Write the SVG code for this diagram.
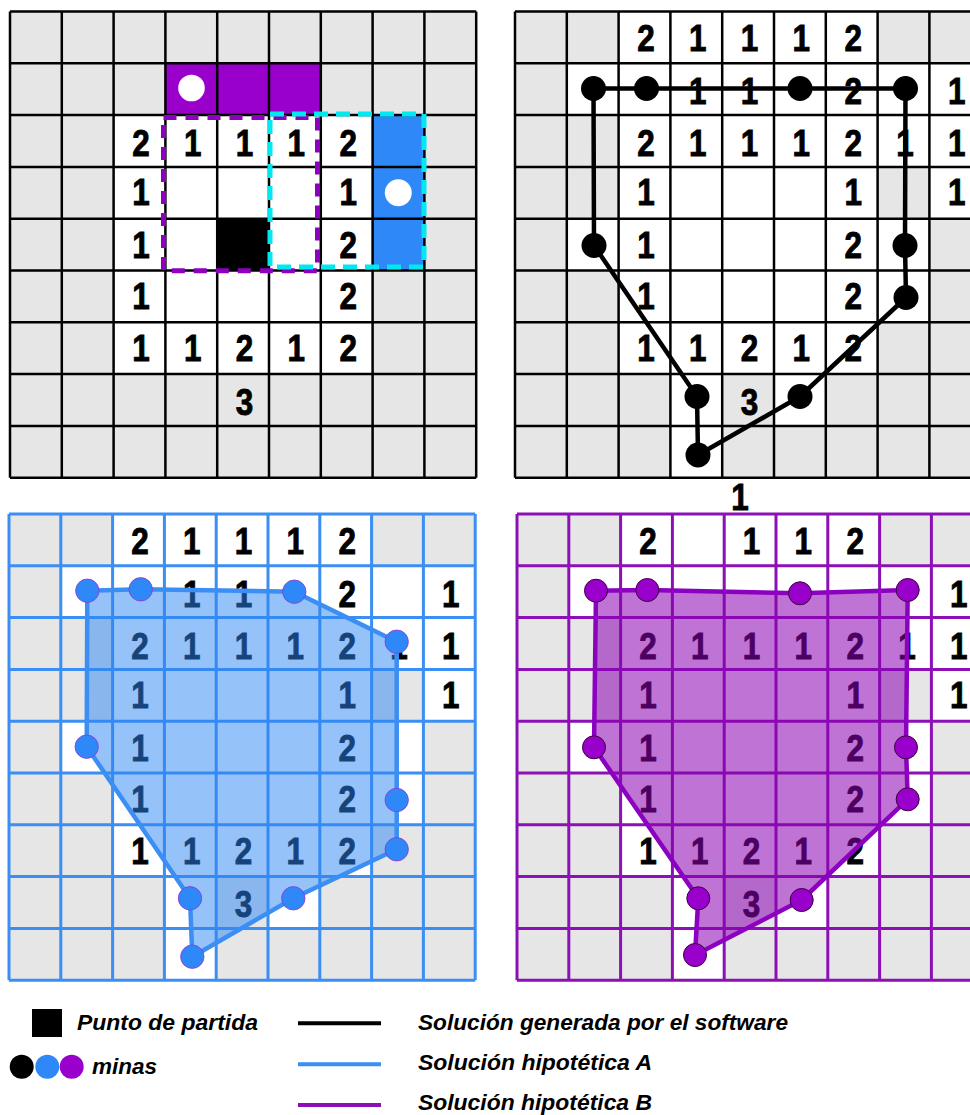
<svg xmlns="http://www.w3.org/2000/svg" xmlns:xlink="http://www.w3.org/1999/xlink" width="970" height="1115" viewBox="0 0 970 1115">
<style>
.num{font-family:"Liberation Sans",Arial,sans-serif;font-weight:700;font-size:37px;text-anchor:middle;fill:#000;stroke:#000;stroke-width:0.9px}
.leg{font-family:"Liberation Sans",Arial,sans-serif;font-weight:700;font-style:italic;font-size:22.5px;fill:#000}
.gray{fill:#e6e6e6}
.white{fill:#fff}
</style>
<defs>
<path id="grid" fill="none" d="M0 0V466.2M51.8 0V466.2M103.6 0V466.2M155.4 0V466.2M207.2 0V466.2M259 0V466.2M310.8 0V466.2M362.6 0V466.2M414.4 0V466.2M466.2 0V466.2M0 0H466.2M0 51.8H466.2M0 103.6H466.2M0 155.4H466.2M0 207.2H466.2M0 259H466.2M0 310.8H466.2M0 362.6H466.2M0 414.4H466.2M0 466.2H466.2"/>
<g id="wcells" class="white">
<rect x="103.6" y="0" width="259" height="51.8"/>
<rect x="51.8" y="51.8" width="414.4" height="51.8"/>
<rect x="103.6" y="103.6" width="362.6" height="51.8"/>
<rect x="103.6" y="155.4" width="259" height="51.8"/>
<rect x="414.4" y="155.4" width="51.8" height="51.8"/>
<rect x="51.8" y="207.2" width="362.6" height="51.8"/>
<rect x="103.6" y="259" width="310.8" height="51.8"/>
<rect x="103.6" y="310.8" width="259" height="51.8"/>
<rect x="155.4" y="362.6" width="51.8" height="51.8"/>
<rect x="259" y="362.6" width="51.8" height="51.8"/>
<rect x="155.4" y="414.4" width="51.8" height="51.8"/>
</g>
</defs>

<!-- Panel 1: initial board -->
<g id="panel-initial" transform="translate(10,11.5)">
<rect class="gray" width="466.2" height="466.2"/>
<rect class="white" x="103.6" y="103.6" width="259" height="259"/>
<rect x="155.4" y="51.8" width="155.4" height="51.8" fill="#9900cc"/>
<rect x="362.6" y="103.6" width="51.8" height="155.4" fill="#2e88f8"/>
<g id="start-cell"><rect x="207.2" y="207.2" width="51.8" height="51.8" fill="#000"/></g>
<g id="mine-purple"><circle cx="181.5" cy="76.5" r="13.3" fill="#fff"/></g>
<g id="mine-blue"><circle cx="388.3" cy="181.2" r="13.5" fill="#fff"/></g>
<g class="num" transform="scale(0.85,1)">
<text x="154.1" y="145">2</text><text x="215.1" y="145">1</text><text x="276" y="145">1</text><text x="336.9" y="145">1</text><text x="397.9" y="145">2</text>
<text x="154.1" y="194">1</text><text x="397.9" y="194">1</text>
<text x="154.1" y="247">1</text><text x="397.9" y="247">2</text>
<text x="154.1" y="298">1</text><text x="397.9" y="298">2</text>
<text x="154.1" y="350">1</text><text x="215.1" y="350">1</text><text x="276" y="350">2</text><text x="336.9" y="350">1</text><text x="397.9" y="350">2</text>
<text x="276" y="403.5">3</text>
</g>
<use xlink:href="#grid" href="#grid" stroke="#000" stroke-width="2.5"/>
<rect x="153.5" y="106" width="154" height="153.3" fill="none" stroke="#8e00c0" stroke-width="5" stroke-dasharray="13 9"/>
<rect x="260" y="102.5" width="154" height="153" fill="none" stroke="#00e8f0" stroke-width="5" stroke-dasharray="14 8"/>
</g>

<!-- Panel 2: software solution -->
<g id="panel-software" transform="translate(515,11.5)">
<rect class="gray" width="466.2" height="466.2"/>
<use xlink:href="#wcells" href="#wcells"/>
<g class="num" transform="scale(0.85,1)">
<text x="154.1" y="40">2</text><text x="215.1" y="40">1</text><text x="276" y="40">1</text><text x="336.9" y="40">1</text><text x="397.9" y="40">2</text>
<text x="215.1" y="93">1</text><text x="276" y="93">1</text><text x="397.9" y="93">2</text><text x="519.8" y="93">1</text>
<text x="154.1" y="145">2</text><text x="215.1" y="145">1</text><text x="276" y="145">1</text><text x="336.9" y="145">1</text><text x="397.9" y="145">2</text><text x="458.8" y="145">1</text><text x="519.8" y="145">1</text>
<text x="154.1" y="194">1</text><text x="397.9" y="194">1</text><text x="519.8" y="194">1</text>
<text x="154.1" y="247">1</text><text x="397.9" y="247">2</text>
<text x="154.1" y="298">1</text><text x="397.9" y="298">2</text>
<text x="154.1" y="350">1</text><text x="215.1" y="350">1</text><text x="276" y="350">2</text><text x="336.9" y="350">1</text><text x="397.9" y="350">2</text>
<text x="276" y="403.5">3</text>
</g>
<use xlink:href="#grid" href="#grid" stroke="#000" stroke-width="2.5"/>
<g id="connectors-software">
<polygon points="78.5,77 131.5,77 285,77 390.5,77 390,234 391,286 285,385 183,443.5 182,385 79,234" fill="none" stroke="#000" stroke-width="4.5" stroke-linejoin="round"/>
</g>
<g id="mines-software" fill="#000">
<circle cx="78.5" cy="77" r="12.5"/><circle cx="131.5" cy="77" r="12.5"/><circle cx="285" cy="77" r="12.5"/><circle cx="390.5" cy="77" r="12.5"/>
<circle cx="390" cy="234" r="12.5"/><circle cx="391" cy="286" r="12.5"/><circle cx="285" cy="385" r="12.5"/><circle cx="183" cy="443.5" r="12.5"/>
<circle cx="182" cy="385" r="12.5"/><circle cx="79" cy="234" r="12.5"/>
</g>
</g>
<g class="num" transform="scale(0.85,1)"><text x="870.6" y="510">1</text></g>

<!-- Panel 3: hypothetical solution A -->
<g id="panel-A" transform="translate(9,514)">
<rect class="gray" width="466.2" height="466.2"/>
<use xlink:href="#wcells" href="#wcells"/>
<use xlink:href="#grid" href="#grid" stroke="#3b8ef3" stroke-width="3"/>
<g class="num" transform="scale(0.85,1)">
<text x="154.1" y="40">2</text><text x="215.1" y="40">1</text><text x="276" y="40">1</text><text x="336.9" y="40">1</text><text x="397.9" y="40">2</text>
<text x="215.1" y="93">1</text><text x="276" y="93">1</text><text x="397.9" y="93">2</text><text x="519.8" y="93">1</text>
<text x="154.1" y="145">2</text><text x="215.1" y="145">1</text><text x="276" y="145">1</text><text x="336.9" y="145">1</text><text x="397.9" y="145">2</text><text x="458.8" y="145">1</text><text x="519.8" y="145">1</text>
<text x="154.1" y="194">1</text><text x="397.9" y="194">1</text><text x="519.8" y="194">1</text>
<text x="154.1" y="247">1</text><text x="397.9" y="247">2</text>
<text x="154.1" y="298">1</text><text x="397.9" y="298">2</text>
<text x="154.1" y="350">1</text><text x="215.1" y="350">1</text><text x="276" y="350">2</text><text x="336.9" y="350">1</text><text x="397.9" y="350">2</text>
<text x="276" y="403.5">3</text>
</g>
<g id="connectors-A">
<polygon points="78.3,76.7 131.7,75.3 285.3,77.7 387.7,127.7 387.7,286 387.7,335.3 284.3,384.3 183.3,442.7 181,384.3 77.7,232.7" fill="#2d86f5" fill-opacity="0.5" stroke="#3b8ef3" stroke-width="4.5" stroke-linejoin="round"/>
</g>
<g id="mines-A" fill="#2e88f8" stroke="#9a2fd0" stroke-width="0.8">
<circle cx="78.3" cy="76.7" r="11.7"/><circle cx="131.7" cy="75.3" r="11.7"/><circle cx="285.3" cy="77.7" r="11.7"/><circle cx="387.7" cy="127.7" r="11.7"/>
<circle cx="387.7" cy="286" r="11.7"/><circle cx="387.7" cy="335.3" r="11.7"/><circle cx="284.3" cy="384.3" r="11.7"/><circle cx="183.3" cy="442.7" r="11.7"/>
<circle cx="181" cy="384.3" r="11.7"/><circle cx="77.7" cy="232.7" r="11.7"/>
</g>
</g>

<!-- Panel 4: hypothetical solution B -->
<g id="panel-B" transform="translate(517,514)">
<rect class="gray" width="466.2" height="466.2"/>
<use xlink:href="#wcells" href="#wcells"/>
<use xlink:href="#grid" href="#grid" stroke="#8c10b6" stroke-width="3"/>
<g class="num" transform="scale(0.85,1)">
<text x="154.1" y="40">2</text><text x="276" y="40">1</text><text x="336.9" y="40">1</text><text x="397.9" y="40">2</text>
<text x="519.8" y="93">1</text>
<text x="154.1" y="145">2</text><text x="215.1" y="145">1</text><text x="276" y="145">1</text><text x="336.9" y="145">1</text><text x="397.9" y="145">2</text><text x="458.8" y="145">1</text><text x="519.8" y="145">1</text>
<text x="154.1" y="194">1</text><text x="397.9" y="194">1</text><text x="519.8" y="194">1</text>
<text x="154.1" y="247">1</text><text x="397.9" y="247">2</text>
<text x="154.1" y="298">1</text><text x="397.9" y="298">2</text>
<text x="154.1" y="350">1</text><text x="215.1" y="350">1</text><text x="276" y="350">2</text><text x="336.9" y="350">1</text><text x="397.9" y="350">2</text>
<text x="276" y="403.5">3</text>
</g>
<g id="connectors-B">
<polygon points="79,76.7 130.3,76 283,79.3 390.7,76 389,233.3 390.7,285.3 284.7,386 178,441 181.3,384.3 77,233.3" fill="#8a00b0" fill-opacity="0.55" stroke="#8c00c0" stroke-width="4.5" stroke-linejoin="round"/>
</g>
<g id="mines-B" fill="#9900cc" stroke="#3a0040" stroke-width="1">
<circle cx="79" cy="76.7" r="11.5"/><circle cx="130.3" cy="76" r="11.5"/><circle cx="283" cy="79.3" r="11.5"/><circle cx="390.7" cy="76" r="11.5"/>
<circle cx="389" cy="233.3" r="11.5"/><circle cx="390.7" cy="285.3" r="11.5"/><circle cx="284.7" cy="386" r="11.5"/><circle cx="178" cy="441" r="11.5"/>
<circle cx="181.3" cy="384.3" r="11.5"/><circle cx="77" cy="233.3" r="11.5"/>
</g>
</g>

<!-- Legend -->
<g id="legend">
<g id="legend-start"><rect x="32" y="1009" width="30" height="28" fill="#000"/>
<text class="leg" x="77" y="1029.5" textLength="181" lengthAdjust="spacingAndGlyphs">Punto de partida</text></g>
<g id="legend-mines"><circle cx="21.7" cy="1066.7" r="12" fill="#000"/><circle cx="47.3" cy="1066.7" r="12" fill="#2e88f8"/><circle cx="71.7" cy="1066.7" r="12" fill="#9900cc"/>
<text class="leg" x="92" y="1074" textLength="65" lengthAdjust="spacingAndGlyphs">minas</text></g>
<g id="legend-software"><line x1="298" y1="1023.3" x2="381" y2="1023.3" stroke="#000" stroke-width="4"/>
<text class="leg" x="418" y="1029.5" textLength="370" lengthAdjust="spacingAndGlyphs">Solución generada por el software</text></g>
<g id="legend-A"><line x1="298" y1="1064.3" x2="381" y2="1064.3" stroke="#3b8ef3" stroke-width="4"/>
<text class="leg" x="418" y="1070" textLength="234" lengthAdjust="spacingAndGlyphs">Solución hipotética A</text></g>
<g id="legend-B"><line x1="298" y1="1105" x2="381" y2="1105" stroke="#8a0fb5" stroke-width="4"/>
<text class="leg" x="418" y="1110" textLength="234" lengthAdjust="spacingAndGlyphs">Solución hipotética B</text></g>
</g>
</svg>
